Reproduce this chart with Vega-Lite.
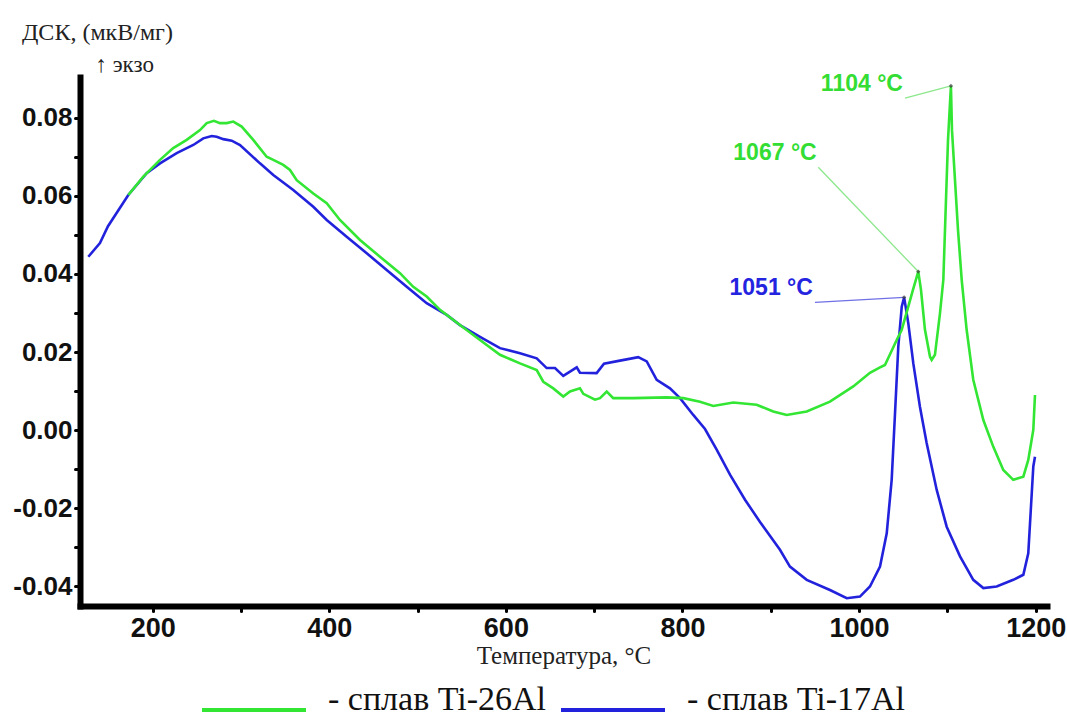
{
  "$schema": "https://vega.github.io/schema/vega-lite/v6.json",
  "autosize": {"type": "none"},
  "padding": {"left": 80, "top": 77, "right": 20, "bottom": 112},
  "width": 967,
  "height": 529,
  "background": "white",
  "title": {
    "text": "ДСК, (мкВ/мг)",
    "anchor": "start",
    "frame": "group",
    "dx": -58,
    "offset": 8,
    "font": "Liberation Serif",
    "fontWeight": "normal",
    "fontSize": 24,
    "color": "#222"
  },
  "config": {
    "view": {"stroke": null},
    "axis": {
      "grid": false,
      "domainColor": "#000",
      "domainWidth": 6,
      "domainCap": "square",
      "tickColor": "#000",
      "tickWidth": 3,
      "tickSize": 5,
      "tickCap": "round",
      "labelFont": "Liberation Sans",
      "labelFontWeight": "bold",
      "labelColor": "#111"
    },
    "legend": {
      "orient": "none",
      "legendX": 120,
      "legendY": 579,
      "direction": "horizontal",
      "symbolType": "stroke",
      "symbolSize": 10816,
      "symbolStrokeWidth": 4,
      "labelFont": "Liberation Serif",
      "labelFontSize": 34,
      "labelColor": "#111",
      "labelBaseline": "alphabetic",
      "labelOffset": 20,
      "labelLimit": 500,
      "columnPadding": 6,
      "padding": 0
    }
  },
  "datasets": {
    "dsc": [
      {"alloy": "Ti-17Al", "T": 127.1, "v": 0.0444}, {"alloy": "Ti-17Al", "T": 140.3, "v": 0.0479},
      {"alloy": "Ti-17Al", "T": 149.4, "v": 0.0522}, {"alloy": "Ti-17Al", "T": 172.4, "v": 0.0602},
      {"alloy": "Ti-17Al", "T": 193.2, "v": 0.0658}, {"alloy": "Ti-17Al", "T": 208.3, "v": 0.0683},
      {"alloy": "Ti-17Al", "T": 227.2, "v": 0.0709}, {"alloy": "Ti-17Al", "T": 246.0, "v": 0.0730},
      {"alloy": "Ti-17Al", "T": 257.3, "v": 0.0747}, {"alloy": "Ti-17Al", "T": 266.8, "v": 0.0753},
      {"alloy": "Ti-17Al", "T": 272.5, "v": 0.0751}, {"alloy": "Ti-17Al", "T": 280.0, "v": 0.0745},
      {"alloy": "Ti-17Al", "T": 289.5, "v": 0.0741}, {"alloy": "Ti-17Al", "T": 298.9, "v": 0.0730},
      {"alloy": "Ti-17Al", "T": 321.5, "v": 0.0683}, {"alloy": "Ti-17Al", "T": 336.6, "v": 0.0653},
      {"alloy": "Ti-17Al", "T": 359.2, "v": 0.0615}, {"alloy": "Ti-17Al", "T": 381.9, "v": 0.0572},
      {"alloy": "Ti-17Al", "T": 397.1, "v": 0.0538}, {"alloy": "Ti-17Al", "T": 419.7, "v": 0.0495},
      {"alloy": "Ti-17Al", "T": 442.4, "v": 0.0453}, {"alloy": "Ti-17Al", "T": 465.0, "v": 0.0410},
      {"alloy": "Ti-17Al", "T": 487.7, "v": 0.0367}, {"alloy": "Ti-17Al", "T": 510.3, "v": 0.0325},
      {"alloy": "Ti-17Al", "T": 533.0, "v": 0.0295}, {"alloy": "Ti-17Al", "T": 548.0, "v": 0.0269},
      {"alloy": "Ti-17Al", "T": 570.7, "v": 0.0239}, {"alloy": "Ti-17Al", "T": 593.3, "v": 0.0210},
      {"alloy": "Ti-17Al", "T": 616.0, "v": 0.0197}, {"alloy": "Ti-17Al", "T": 634.9, "v": 0.0184},
      {"alloy": "Ti-17Al", "T": 646.2, "v": 0.0159}, {"alloy": "Ti-17Al", "T": 655.6, "v": 0.0159},
      {"alloy": "Ti-17Al", "T": 665.0, "v": 0.0139}, {"alloy": "Ti-17Al", "T": 672.6, "v": 0.0150},
      {"alloy": "Ti-17Al", "T": 680.2, "v": 0.0161}, {"alloy": "Ti-17Al", "T": 683.9, "v": 0.0147},
      {"alloy": "Ti-17Al", "T": 702.8, "v": 0.0146}, {"alloy": "Ti-17Al", "T": 711.1, "v": 0.0170},
      {"alloy": "Ti-17Al", "T": 729.2, "v": 0.0178}, {"alloy": "Ti-17Al", "T": 749.9, "v": 0.0187},
      {"alloy": "Ti-17Al", "T": 759.5, "v": 0.0176}, {"alloy": "Ti-17Al", "T": 770.8, "v": 0.0129},
      {"alloy": "Ti-17Al", "T": 785.8, "v": 0.0107}, {"alloy": "Ti-17Al", "T": 797.2, "v": 0.0082},
      {"alloy": "Ti-17Al", "T": 812.2, "v": 0.0039}, {"alloy": "Ti-17Al", "T": 825.5, "v": 0.0003},
      {"alloy": "Ti-17Al", "T": 838.7, "v": -0.0050}, {"alloy": "Ti-17Al", "T": 853.8, "v": -0.0114},
      {"alloy": "Ti-17Al", "T": 870.8, "v": -0.0178}, {"alloy": "Ti-17Al", "T": 887.8, "v": -0.0235},
      {"alloy": "Ti-17Al", "T": 910.4, "v": -0.0306}, {"alloy": "Ti-17Al", "T": 921.7, "v": -0.0349},
      {"alloy": "Ti-17Al", "T": 940.7, "v": -0.0383}, {"alloy": "Ti-17Al", "T": 967.0, "v": -0.0409},
      {"alloy": "Ti-17Al", "T": 986.0, "v": -0.0430}, {"alloy": "Ti-17Al", "T": 1001.0, "v": -0.0426},
      {"alloy": "Ti-17Al", "T": 1012.3, "v": -0.0400}, {"alloy": "Ti-17Al", "T": 1023.7, "v": -0.0349},
      {"alloy": "Ti-17Al", "T": 1031.3, "v": -0.0264}, {"alloy": "Ti-17Al", "T": 1036.9, "v": -0.0127},
      {"alloy": "Ti-17Al", "T": 1040.7, "v": 0.0044}, {"alloy": "Ti-17Al", "T": 1044.4, "v": 0.0214},
      {"alloy": "Ti-17Al", "T": 1048.3, "v": 0.0316}, {"alloy": "Ti-17Al", "T": 1051, "v": 0.0340},
      {"alloy": "Ti-17Al", "T": 1055.7, "v": 0.0274}, {"alloy": "Ti-17Al", "T": 1061.4, "v": 0.0171},
      {"alloy": "Ti-17Al", "T": 1068.9, "v": 0.0060}, {"alloy": "Ti-17Al", "T": 1076.5, "v": -0.0033},
      {"alloy": "Ti-17Al", "T": 1087.9, "v": -0.0153}, {"alloy": "Ti-17Al", "T": 1099.2, "v": -0.0247},
      {"alloy": "Ti-17Al", "T": 1114.3, "v": -0.0323}, {"alloy": "Ti-17Al", "T": 1129.3, "v": -0.0383},
      {"alloy": "Ti-17Al", "T": 1140.7, "v": -0.0404}, {"alloy": "Ti-17Al", "T": 1155.8, "v": -0.0400},
      {"alloy": "Ti-17Al", "T": 1174.6, "v": -0.0383}, {"alloy": "Ti-17Al", "T": 1186.0, "v": -0.0370},
      {"alloy": "Ti-17Al", "T": 1191.6, "v": -0.0315}, {"alloy": "Ti-17Al", "T": 1197.3, "v": -0.0093},
      {"alloy": "Ti-17Al", "T": 1199.2, "v": -0.0068},

      {"alloy": "Ti-26Al", "T": 172.4, "v": 0.0602}, {"alloy": "Ti-26Al", "T": 189.4, "v": 0.0649},
      {"alloy": "Ti-26Al", "T": 208.3, "v": 0.0692}, {"alloy": "Ti-26Al", "T": 223.3, "v": 0.0722},
      {"alloy": "Ti-26Al", "T": 238.5, "v": 0.0743}, {"alloy": "Ti-26Al", "T": 253.6, "v": 0.0768},
      {"alloy": "Ti-26Al", "T": 261.2, "v": 0.0786}, {"alloy": "Ti-26Al", "T": 269.4, "v": 0.0792},
      {"alloy": "Ti-26Al", "T": 276.2, "v": 0.0786}, {"alloy": "Ti-26Al", "T": 283.8, "v": 0.0786},
      {"alloy": "Ti-26Al", "T": 291.3, "v": 0.0790}, {"alloy": "Ti-26Al", "T": 300.8, "v": 0.0777},
      {"alloy": "Ti-26Al", "T": 313.9, "v": 0.0743}, {"alloy": "Ti-26Al", "T": 329.1, "v": 0.0700},
      {"alloy": "Ti-26Al", "T": 336.6, "v": 0.0692}, {"alloy": "Ti-26Al", "T": 347.9, "v": 0.0679},
      {"alloy": "Ti-26Al", "T": 355.5, "v": 0.0666}, {"alloy": "Ti-26Al", "T": 363.1, "v": 0.0640},
      {"alloy": "Ti-26Al", "T": 381.9, "v": 0.0606}, {"alloy": "Ti-26Al", "T": 397.1, "v": 0.0581},
      {"alloy": "Ti-26Al", "T": 412.1, "v": 0.0538}, {"alloy": "Ti-26Al", "T": 434.8, "v": 0.0487},
      {"alloy": "Ti-26Al", "T": 457.4, "v": 0.0444}, {"alloy": "Ti-26Al", "T": 480.1, "v": 0.0402},
      {"alloy": "Ti-26Al", "T": 495.1, "v": 0.0367}, {"alloy": "Ti-26Al", "T": 510.3, "v": 0.0342},
      {"alloy": "Ti-26Al", "T": 525.4, "v": 0.0308}, {"alloy": "Ti-26Al", "T": 548.0, "v": 0.0269},
      {"alloy": "Ti-26Al", "T": 570.7, "v": 0.0231}, {"alloy": "Ti-26Al", "T": 593.3, "v": 0.0193},
      {"alloy": "Ti-26Al", "T": 616.0, "v": 0.0171}, {"alloy": "Ti-26Al", "T": 634.9, "v": 0.0154},
      {"alloy": "Ti-26Al", "T": 642.4, "v": 0.0124}, {"alloy": "Ti-26Al", "T": 653.7, "v": 0.0107},
      {"alloy": "Ti-26Al", "T": 665.0, "v": 0.0086}, {"alloy": "Ti-26Al", "T": 672.6, "v": 0.0099},
      {"alloy": "Ti-26Al", "T": 683.9, "v": 0.0107}, {"alloy": "Ti-26Al", "T": 687.7, "v": 0.0093},
      {"alloy": "Ti-26Al", "T": 700.9, "v": 0.0078}, {"alloy": "Ti-26Al", "T": 706.6, "v": 0.0082},
      {"alloy": "Ti-26Al", "T": 714.2, "v": 0.0099}, {"alloy": "Ti-26Al", "T": 721.6, "v": 0.0082},
      {"alloy": "Ti-26Al", "T": 744.3, "v": 0.0082}, {"alloy": "Ti-26Al", "T": 782.1, "v": 0.0084},
      {"alloy": "Ti-26Al", "T": 800.9, "v": 0.0082}, {"alloy": "Ti-26Al", "T": 819.8, "v": 0.0073},
      {"alloy": "Ti-26Al", "T": 834.9, "v": 0.0062}, {"alloy": "Ti-26Al", "T": 857.5, "v": 0.0071},
      {"alloy": "Ti-26Al", "T": 884.0, "v": 0.0065}, {"alloy": "Ti-26Al", "T": 902.8, "v": 0.0048},
      {"alloy": "Ti-26Al", "T": 918.0, "v": 0.0039}, {"alloy": "Ti-26Al", "T": 940.7, "v": 0.0048},
      {"alloy": "Ti-26Al", "T": 967.0, "v": 0.0073}, {"alloy": "Ti-26Al", "T": 993.4, "v": 0.0112},
      {"alloy": "Ti-26Al", "T": 1012.3, "v": 0.0147}, {"alloy": "Ti-26Al", "T": 1023.7, "v": 0.0161},
      {"alloy": "Ti-26Al", "T": 1029.3, "v": 0.0167}, {"alloy": "Ti-26Al", "T": 1042.6, "v": 0.0231},
      {"alloy": "Ti-26Al", "T": 1048.3, "v": 0.0257}, {"alloy": "Ti-26Al", "T": 1055.7, "v": 0.0316},
      {"alloy": "Ti-26Al", "T": 1061.0, "v": 0.0359}, {"alloy": "Ti-26Al", "T": 1067, "v": 0.0406},
      {"alloy": "Ti-26Al", "T": 1070.1, "v": 0.0359}, {"alloy": "Ti-26Al", "T": 1074.6, "v": 0.0257},
      {"alloy": "Ti-26Al", "T": 1080.3, "v": 0.0188}, {"alloy": "Ti-26Al", "T": 1082.2, "v": 0.0180},
      {"alloy": "Ti-26Al", "T": 1085.9, "v": 0.0193}, {"alloy": "Ti-26Al", "T": 1091.6, "v": 0.0299},
      {"alloy": "Ti-26Al", "T": 1095.4, "v": 0.0385}, {"alloy": "Ti-26Al", "T": 1098.4, "v": 0.0589},
      {"alloy": "Ti-26Al", "T": 1100.7, "v": 0.0743}, {"alloy": "Ti-26Al", "T": 1104, "v": 0.0881},
      {"alloy": "Ti-26Al", "T": 1105.2, "v": 0.0768}, {"alloy": "Ti-26Al", "T": 1108.6, "v": 0.0640},
      {"alloy": "Ti-26Al", "T": 1112.0, "v": 0.0513}, {"alloy": "Ti-26Al", "T": 1116.2, "v": 0.0385},
      {"alloy": "Ti-26Al", "T": 1121.8, "v": 0.0257}, {"alloy": "Ti-26Al", "T": 1129.3, "v": 0.0129},
      {"alloy": "Ti-26Al", "T": 1140.7, "v": 0.0026}, {"alloy": "Ti-26Al", "T": 1151.9, "v": -0.0042},
      {"alloy": "Ti-26Al", "T": 1163.3, "v": -0.0102}, {"alloy": "Ti-26Al", "T": 1174.6, "v": -0.0127},
      {"alloy": "Ti-26Al", "T": 1186.0, "v": -0.0119}, {"alloy": "Ti-26Al", "T": 1191.6, "v": -0.0076},
      {"alloy": "Ti-26Al", "T": 1197.3, "v": 0.0001}, {"alloy": "Ti-26Al", "T": 1199.2, "v": 0.0090}
    ],
    "peaks": [
      {"alloy": "Ti-26Al", "T": 1104, "v": 0.0881, "label": "1104 °C", "lx": 1052.0, "lv": 0.0850, "tx": 1049.7, "tv": 0.0886},
      {"alloy": "Ti-26Al", "T": 1067, "v": 0.0406, "label": "1067 °C", "lx": 953.8, "lv": 0.0673, "tx": 952.0, "tv": 0.0710},
      {"alloy": "Ti-17Al", "T": 1051, "v": 0.0340, "label": "1051 °C", "lx": 950.0, "lv": 0.0327, "tx": 947.7, "tv": 0.0365}
    ]
  },
  "layer": [
    {
      "data": {"name": "dsc"},
      "mark": {"type": "line", "strokeWidth": 2.6, "interpolate": "linear"},
      "encoding": {
        "x": {
          "field": "T", "type": "quantitative",
          "scale": {"domain": [117.7, 1212.8], "nice": false, "zero": false},
          "axis": {
            "values": [200, 300, 400, 500, 600, 700, 800, 900, 1000, 1100, 1200],
            "labelExpr": "datum.value % 200 === 0 ? format(datum.value, 'd') : ''",
            "labelFontSize": 27,
            "labelPadding": 4,
            "title": "Температура, °C",
            "titleFont": "Liberation Serif",
            "titleFontWeight": "normal",
            "titleFontSize": 25,
            "titleColor": "#222",
            "titlePadding": 2
          }
        },
        "y": {
          "field": "v", "type": "quantitative",
          "scale": {"domain": [-0.045, 0.0904], "nice": false, "zero": false},
          "axis": {
            "values": [-0.04, -0.03, -0.02, -0.01, 0, 0.01, 0.02, 0.03, 0.04, 0.05, 0.06, 0.07, 0.08],
            "labelExpr": "abs(round(datum.value * 100)) % 2 === 0 ? replace(format(datum.value, '.2f'), '\u2212', '-') : ''",
            "labelFontSize": 26,
            "labelPadding": 3,
            "title": "↑ экзо",
            "titleAngle": 0,
            "titleAlign": "left",
            "titleBaseline": "alphabetic",
            "titleX": 15,
            "titleY": -6,
            "titleFont": "Liberation Serif",
            "titleFontWeight": "normal",
            "titleFontSize": 23,
            "titleColor": "#222"
          }
        },
        "color": {
          "field": "alloy", "type": "nominal",
          "scale": {"domain": ["Ti-26Al", "Ti-17Al"], "range": ["#33e633", "#2222dd"]},
          "legend": {"title": null, "labelExpr": "'- сплав ' + datum.label"}
        }
      }
    },
    {
      "data": {"name": "peaks"},
      "transform": [{"filter": "datum.alloy === 'Ti-26Al'"}],
      "mark": {"type": "rule", "color": "#8ce88c", "strokeWidth": 1.3},
      "encoding": {
        "x": {"field": "lx", "type": "quantitative"},
        "y": {"field": "lv", "type": "quantitative"},
        "x2": {"field": "T"},
        "y2": {"field": "v"}
      }
    },
    {
      "data": {"name": "peaks"},
      "transform": [{"filter": "datum.alloy === 'Ti-17Al'"}],
      "mark": {"type": "rule", "color": "#7070e6", "strokeWidth": 1.3},
      "encoding": {
        "x": {"field": "lx", "type": "quantitative"},
        "y": {"field": "lv", "type": "quantitative"},
        "x2": {"field": "T"},
        "y2": {"field": "v"}
      }
    },
    {
      "data": {"name": "peaks"},
      "mark": {"type": "point", "shape": "diamond", "filled": true, "size": 18, "color": "#333"},
      "encoding": {
        "x": {"field": "T", "type": "quantitative"},
        "y": {"field": "v", "type": "quantitative"}
      }
    },
    {
      "data": {"name": "peaks"},
      "transform": [{"filter": "datum.alloy === 'Ti-26Al'"}],
      "mark": {"type": "text", "align": "right", "baseline": "middle", "font": "Liberation Sans", "fontWeight": "bold", "fontSize": 23, "color": "#33dd33"},
      "encoding": {
        "x": {"field": "tx", "type": "quantitative"},
        "y": {"field": "tv", "type": "quantitative"},
        "text": {"field": "label"}
      }
    },
    {
      "data": {"name": "peaks"},
      "transform": [{"filter": "datum.alloy === 'Ti-17Al'"}],
      "mark": {"type": "text", "align": "right", "baseline": "middle", "font": "Liberation Sans", "fontWeight": "bold", "fontSize": 23, "color": "#2424e0"},
      "encoding": {
        "x": {"field": "tx", "type": "quantitative"},
        "y": {"field": "tv", "type": "quantitative"},
        "text": {"field": "label"}
      }
    }
  ]
}
